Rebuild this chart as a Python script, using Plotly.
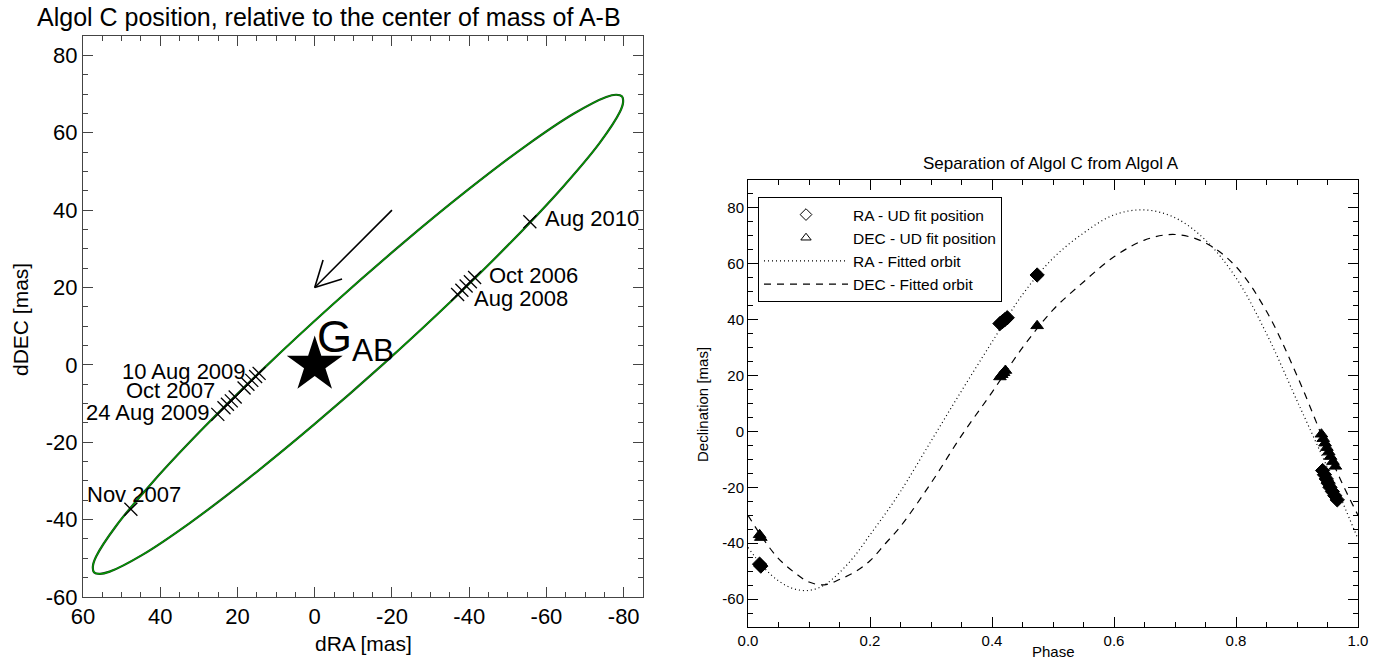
import numpy as np
import plotly.graph_objects as go

# ---------------- Left panel data ----------------
# fitted apparent orbit of Algol C (dRA, dDEC in mas)
orbit_dra = [-79.57, -79.84, -79.0, -73.79, -64.32, -51.24, -35.44, -17.96, -0.02, 17.14, 32.36, 44.63,
             53.1, 55.68, 57.17, 57.44, 56.6, 51.39, 41.92, 28.84, 13.04, -4.44, -22.38, -39.54, -54.76,
             -67.03, -75.5, -78.08, -79.57]
orbit_ddec = [69.38, 67.85, 65.34, 57.38, 46.06, 32.14, 16.57, 0.39, -15.27, -29.34, -40.88, -49.10,
              -53.44, -54.01, -53.58, -52.05, -49.54, -41.58, -30.26, -16.34, -0.77, 15.41, 31.07, 45.14,
              56.68, 64.9, 69.24, 69.81, 69.38]

# observed positions (x markers)
obs_dra = [47.6, 25.1, 23.5, 22.6, 21.6, 20.6, 18.3, 17.3, 16.3, 15.3, 14.4,
           -37.0, -38.1, -39.2, -40.3, -41.4, -55.7]
obs_ddec = [-37.3, -12.8, -11.1, -10.2, -9.3, -8.3, -6.0, -5.0, -4.0, -3.0, -2.2,
            18.2, 19.3, 20.4, 21.5, 22.6, 37.0]

# epoch labels
label_text = ["Aug 2010", "Oct 2006", "Aug 2008", "10 Aug 2009", "Oct 2007", "24 Aug 2009", "Nov 2007"]
label_dra = [-59.0, -44.6, -40.7, 17.3, 25.3, 26.6, 46.8]
label_ddec = [37.8, 23.1, 17.1, -1.8, -6.7, -12.4, -33.4]
label_anchor = ["left", "left", "left", "right", "right", "right", "center"]

# motion arrow (tail -> head) and centre of mass
arrow_dra = [-20.0, 0.0]
arrow_ddec = [40.0, 20.0]
com_dra = [0.0]
com_ddec = [0.0]

left_xticks = [60, 40, 20, 0, -20, -40, -60, -80]
left_xticktext = ["60", "40", "20", "0", "-20", "-40", "-60", "-80"]
left_yticks = [-60, -40, -20, 0, 20, 40, 60, 80]
left_yticktext = ["-60", "-40", "-20", "0", "20", "40", "60", "80"]

# ---------------- Right panel data ----------------
fit_phase = [0.0, 0.025, 0.05, 0.075, 0.1, 0.125, 0.15, 0.175, 0.2, 0.225, 0.25, 0.3, 0.35, 0.4,
             0.45, 0.5, 0.55, 0.6, 0.65, 0.7, 0.75, 0.8, 0.85, 0.9, 0.95, 0.975, 1.0]
ra_fit = [-41.5, -48.5, -53.5, -56.3, -56.9, -55.0, -50.5, -44.5, -37.0, -29.5, -21.5, -3.5, 14.5, 32.0,
          49.0, 62.0, 71.0, 77.5, 79.3, 76.5, 68.5, 55.0, 35.0, 11.0, -13.0, -25.5, -38.5]
dec_fit = [-30.0, -38.5, -45.5, -50.3, -53.9, -54.9, -53.0, -50.3, -46.3, -40.2, -34.0, -18.5, -1.5, 14.0,
           30.0, 43.5, 53.5, 62.5, 68.5, 70.5, 67.5, 59.0, 43.0, 20.0, -6.5, -19.0, -30.0]

ra_phase = [0.019, 0.021, 0.413, 0.417, 0.421, 0.425, 0.474, 0.942, 0.945, 0.948, 0.951, 0.954, 0.958, 0.962, 0.966]
ra_val = [-47.5, -48.2, 38.6, 39.3, 40.0, 40.7, 56.0, -14.0, -15.5, -17.0, -18.5, -20.0, -21.5, -23.0, -24.5]
dec_phase = [0.019, 0.021, 0.413, 0.416, 0.419, 0.422, 0.474, 0.940, 0.943, 0.946, 0.949, 0.952, 0.955, 0.959, 0.963]
dec_val = [-37.0, -38.0, 19.5, 20.3, 21.0, 21.8, 37.8, -1.0, -2.6, -4.2, -5.8, -7.4, -9.0, -10.8, -12.5]

right_xticks = [0.0, 0.2, 0.4, 0.6, 0.8, 1.0]
right_xticktext = ["0.0", "0.2", "0.4", "0.6", "0.8", "1.0"]
right_yticks = [-60, -40, -20, 0, 20, 40, 60, 80]
right_yticktext = ["-60", "-40", "-20", "0", "20", "40", "60", "80"]

FONT = "Liberation Sans, Arial, sans-serif"
W, H = 1395, 665


def px(x):
    return x / W


def py(y):
    return 1 - y / H


fig = go.Figure()

# ---- left panel ----
fig.add_trace(go.Scatter(x=orbit_dra, y=orbit_ddec, mode="lines", line=dict(color="#1a3a1a", width=2.2, shape="spline", smoothing=0.8),
                         showlegend=False, hoverinfo="skip", xaxis="x", yaxis="y"))
fig.add_trace(go.Scatter(x=orbit_dra, y=orbit_ddec, mode="lines", line=dict(color="#00a000", width=1.2, shape="spline", smoothing=0.8),
                         showlegend=False, xaxis="x", yaxis="y"))
fig.add_trace(go.Scatter(x=obs_dra, y=obs_ddec, mode="markers",
                         marker=dict(symbol="x-thin", size=13, line=dict(color="black", width=1.3)),
                         showlegend=False, xaxis="x", yaxis="y"))
fig.add_trace(go.Scatter(x=com_dra, y=com_ddec, mode="markers",
                         marker=dict(symbol="star", size=42, color="black", line=dict(width=0)),
                         showlegend=False, xaxis="x", yaxis="y"))

# arrow: shaft + two barbs built from the tail/head points
tx, ty = arrow_dra[0], arrow_ddec[0]
hx, hy = arrow_dra[1], arrow_ddec[1]
d = np.array([tx - hx, ty - hy])
d = d / np.linalg.norm(d)
barb_len = 7.4
ang = np.deg2rad(28)
rot = lambda v, a: np.array([v[0] * np.cos(a) - v[1] * np.sin(a), v[0] * np.sin(a) + v[1] * np.cos(a)])
b1 = np.array([hx, hy]) + barb_len * rot(d, ang)
b2 = np.array([hx, hy]) + barb_len * rot(d, -ang)
fig.add_trace(go.Scatter(x=[tx, hx, None, b1[0], hx, b2[0]], y=[ty, hy, None, b1[1], hy, b2[1]],
                         mode="lines", line=dict(color="black", width=1.6), showlegend=False,
                         xaxis="x", yaxis="y"))

annotations = []
for t, x, y, a in zip(label_text, label_dra, label_ddec, label_anchor):
    annotations.append(dict(text=t, x=x, y=y, xref="x", yref="y", xanchor=a, yanchor="middle",
                            showarrow=False, font=dict(family=FONT, size=22, color="black")))
annotations.append(dict(text="G<sub>AB</sub>", x=0.0, y=6.5, xref="x", yref="y", xanchor="left",
                        yanchor="middle", showarrow=False, font=dict(family=FONT, size=45, color="black")))

# ---- right panel ----
fig.add_trace(go.Scatter(x=fit_phase, y=ra_fit, mode="lines", name="RA - Fitted orbit", legendrank=3,
                         line=dict(color="black", width=1.2, dash="1px,3px", shape="spline"),
                         xaxis="x2", yaxis="y2"))
fig.add_trace(go.Scatter(x=fit_phase, y=dec_fit, mode="lines", name="DEC - Fitted orbit", legendrank=4,
                         line=dict(color="black", width=1.2, dash="7px,6px", shape="spline"),
                         xaxis="x2", yaxis="y2"))
fig.add_trace(go.Scatter(x=ra_phase, y=ra_val, mode="markers", showlegend=False,
                         marker=dict(symbol="diamond", size=11, color="black", line=dict(color="black", width=1)),
                         xaxis="x2", yaxis="y2"))
fig.add_trace(go.Scatter(x=dec_phase, y=dec_val, mode="markers", showlegend=False,
                         marker=dict(symbol="triangle-up", size=11, color="black", line=dict(color="black", width=1)),
                         xaxis="x2", yaxis="y2"))
fig.add_trace(go.Scatter(x=[None], y=[None], mode="markers", name="RA - UD fit position", legendrank=1,
                         marker=dict(symbol="diamond-open", size=9, color="black", line=dict(width=1)),
                         xaxis="x2", yaxis="y2"))
fig.add_trace(go.Scatter(x=[None], y=[None], mode="markers", name="DEC - UD fit position", legendrank=2,
                         marker=dict(symbol="triangle-up-open", size=9, color="black", line=dict(width=1)),
                         xaxis="x2", yaxis="y2"))

# titles / axis titles as annotations
annotations += [
    dict(text="Algol C position, relative to the center of mass of A-B", x=px(35), y=py(17), xref="paper", yref="paper",
         xanchor="left", yanchor="middle", showarrow=False, font=dict(family=FONT, size=25, color="black")),
    dict(text="dRA [mas]", x=px(363), y=py(643), xref="paper", yref="paper", xanchor="center", yanchor="middle",
         showarrow=False, font=dict(family=FONT, size=21, color="black")),
    dict(text="dDEC [mas]", x=px(20), y=py(320), xref="paper", yref="paper", xanchor="center", yanchor="middle",
         textangle=-90, showarrow=False, font=dict(family=FONT, size=21, color="black")),
    dict(text="Separation of Algol C from Algol A", x=px(1051), y=py(163), xref="paper", yref="paper",
         xanchor="center", yanchor="middle", showarrow=False, font=dict(family=FONT, size=17, color="black")),
    dict(text="Phase", x=px(1053), y=py(651), xref="paper", yref="paper", xanchor="center", yanchor="middle",
         showarrow=False, font=dict(family=FONT, size=15, color="black")),
    dict(text="Declination [mas]", x=px(702), y=py(404), xref="paper", yref="paper", xanchor="center",
         yanchor="middle", textangle=-90, showarrow=False, font=dict(family=FONT, size=15, color="black")),
]

left_axis_common = dict(showline=True, linecolor="#444", linewidth=1, mirror="ticks", ticks="inside",
                        ticklen=10, tickcolor="#444", showgrid=False, zeroline=False, automargin=False,
                        tickfont=dict(family=FONT, size=22, color="black"),
                        minor=dict(ticks="inside", ticklen=5, dtick=5, tickcolor="#444", showgrid=False))
right_axis_common = dict(showline=True, linecolor="black", linewidth=1, mirror="ticks", ticks="inside",
                         ticklen=10, tickcolor="black", showgrid=False, zeroline=False, automargin=False,
                         tickfont=dict(family=FONT, size=15, color="black"))

fig.update_layout(
    width=W, height=H, margin=dict(l=0, r=0, t=0, b=0, pad=0, autoexpand=False), autosize=False,
    paper_bgcolor="white", plot_bgcolor="white",
    font=dict(family=FONT, color="black"),
    xaxis=dict(domain=[px(83), px(643)], range=[60, -85], tickmode="array", tickvals=left_xticks,
               ticktext=left_xticktext, anchor="y", **left_axis_common),
    yaxis=dict(domain=[py(597), py(36)], range=[-60, 85], tickmode="array", tickvals=left_yticks,
               ticktext=left_yticktext, anchor="x", **left_axis_common),
    xaxis2=dict(domain=[px(748), px(1358)], range=[0, 1], tickmode="array", tickvals=right_xticks,
                ticktext=right_xticktext, anchor="y2",
                minor=dict(ticks="inside", ticklen=5, dtick=0.05, tickcolor="black", showgrid=False),
                **right_axis_common),
    yaxis2=dict(domain=[py(627), py(180)], range=[-70, 90], tickmode="array", tickvals=right_yticks,
                ticktext=right_yticktext, anchor="x2",
                minor=dict(ticks="inside", ticklen=5, dtick=5, tickcolor="black", showgrid=False),
                **right_axis_common),
    legend=dict(x=px(758), y=py(197), xanchor="left", yanchor="top", bgcolor="white",
                bordercolor="black", borderwidth=1, font=dict(family=FONT, size=15.5, color="black"),
                tracegroupgap=0, itemwidth=84),
    annotations=annotations,
)

fig.write_html("out.html", config={"displayModeBar": False},
               post_script="document.body.style.margin='0';")
